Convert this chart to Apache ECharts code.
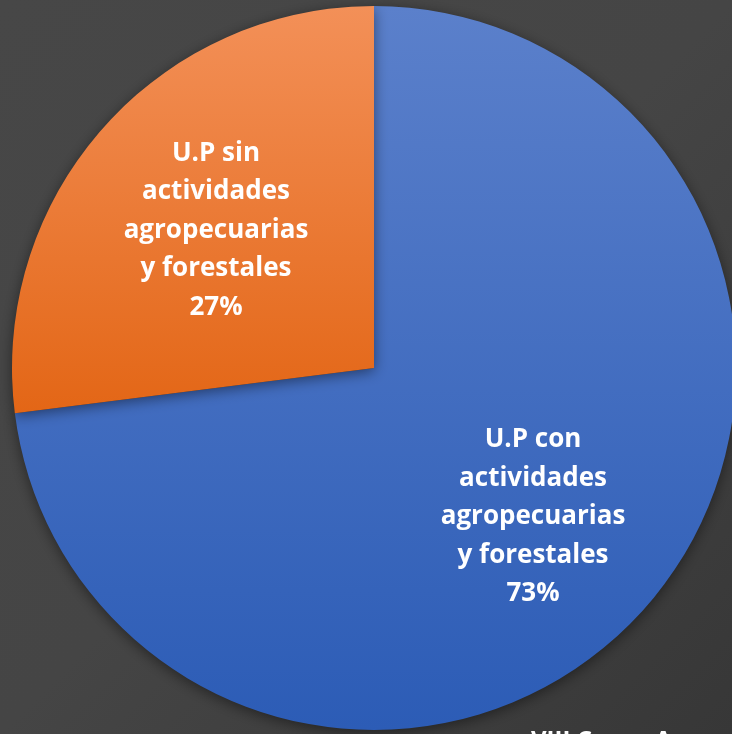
<!DOCTYPE html>
<html>
<head>
<meta charset="utf-8">
<script src="https://cdn.jsdelivr.net/npm/echarts@6/dist/echarts.min.js"></script>
<style>
html,body{margin:0;padding:0;background:#434343;}
#c{width:732px;height:734px;}
</style>
</head>
<body>
<div id="c"></div>
<script>
var categories = ['U.P con\nactividades\nagropecuarias\ny forestales', 'U.P sin\nactividades\nagropecuarias\ny forestales'];
var values = [73, 27];
var percentLabels = ['73%', '27%'];
var footerText = 'VIII Censo Agropecuario';

var colors = [
  new echarts.graphic.LinearGradient(0, 0, 0, 1, [{offset: 0, color: '#5b80cb'}, {offset: 1, color: '#2c5cb6'}]),
  new echarts.graphic.LinearGradient(0, 0, 0, 1, [{offset: 0, color: '#f39058'}, {offset: 1, color: '#e36616'}])
];
var labelOffsets = [[21, 27], [-20, -16]];

var chart = echarts.init(document.getElementById('c'));
chart.setOption({
  backgroundColor: new echarts.graphic.LinearGradient(0, 0, 1, 1, [
    {offset: 0, color: '#474747'}, {offset: 0.5, color: '#454545'}, {offset: 1, color: '#373737'}
  ]),
  animation: false,
  graphic: [{
    type: 'text', left: 531, top: 729,
    style: {text: footerText, fill: '#ffffff', font: 'bold 24px "Open Sans", sans-serif'}
  }],
  series: [{
    type: 'pie',
    center: [374, 368],
    radius: [0, 362],
    startAngle: 90,
    clockwise: true,
    data: categories.map(function (c, i) {
      return {
        name: c, value: values[i],
        itemStyle: {color: colors[i], shadowBlur: 14, shadowColor: 'rgba(0,0,0,0.45)', shadowOffsetY: 3}
      };
    }),
    label: {
      show: true,
      position: 'inside',
      color: '#ffffff',
      fontFamily: '"Open Sans", sans-serif',
      fontWeight: 'bold',
      fontSize: 26,
      lineHeight: 38.5,
      align: 'center',
      formatter: function (p) { return p.name + '\n' + percentLabels[p.dataIndex]; }
    },
    labelLayout: function (p) {
      return {dx: labelOffsets[p.dataIndex][0], dy: labelOffsets[p.dataIndex][1]};
    },
    labelLine: {show: false},
    emphasis: {disabled: true}
  }]
});
</script>
</body>
</html>
